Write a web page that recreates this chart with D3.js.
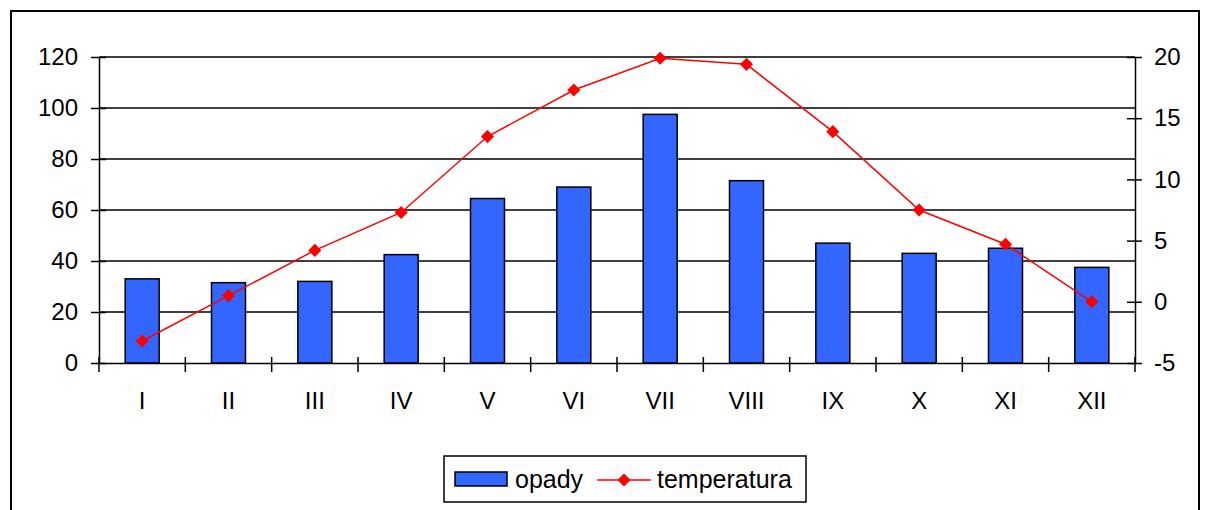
<!DOCTYPE html>
<html>
<head>
  <meta charset="utf-8">
  <script src="https://d3js.org/d3.v7.min.js"></script>
  <style>
  body { margin: 0; background: white; }
  svg text { font-family: "Liberation Sans", Arial, sans-serif; fill: black; }
  </style>
</head>
<body>
<svg id="chart" width="1208" height="510"></svg>
<script>
// data
var months = ["I", "II", "III", "IV", "V", "VI", "VII", "VIII", "IX", "X", "XI", "XII"];
var opady = [33, 31.5, 32, 42.5, 64.5, 69, 97.5, 71.5, 47, 43, 45, 37.5];
var temperatura = [-3.2, 0.5, 4.2, 7.3, 13.5, 17.3, 19.9, 19.4, 13.9, 7.5, 4.7, 0];
var leftTicks = [0, 20, 40, 60, 80, 100, 120];
var rightTicks = [-5, 0, 5, 10, 15, 20];

var svg = d3.select("#chart");

// outer frame
svg.append("rect")
  .attr("x", 11).attr("y", 11)
  .attr("width", 1188).attr("height", 520)
  .attr("fill", "none").attr("stroke", "black").attr("stroke-width", 2);

var plotLeft = 99, plotRight = 1135, plotTop = 57, plotBottom = 363;
var fontSize = "24px";

var xs = d3.scaleBand().domain(months).range([plotLeft, plotRight]);
var yl = d3.scaleLinear().domain([0, 120]).range([plotBottom, plotTop]);
var yr = d3.scaleLinear().domain([-5, 20]).range([plotBottom, plotTop]);

// gridlines
svg.append("g").selectAll("line").data(leftTicks.slice(1)).enter().append("line")
  .attr("x1", plotLeft).attr("x2", plotRight)
  .attr("y1", function(d){ return yl(d); }).attr("y2", function(d){ return yl(d); })
  .attr("stroke", "black").attr("stroke-width", 1.5);

// bars
var bw = 34;
svg.append("g").selectAll("rect").data(opady).enter().append("rect")
  .attr("x", function(d, i){ return xs(months[i]) + xs.bandwidth() / 2 - bw / 2; })
  .attr("y", function(d){ return yl(d); })
  .attr("width", bw)
  .attr("height", function(d){ return plotBottom - yl(d); })
  .attr("fill", "#3366FF")
  .attr("stroke", "black").attr("stroke-width", 1.5);

// axes
function styleAxis(g) {
  g.select(".domain").attr("stroke", "black").attr("stroke-width", 1.5);
  g.selectAll(".tick line").attr("stroke", "black").attr("stroke-width", 1.5);
  g.selectAll(".tick text").style("font-size", fontSize).style("font-family", "Liberation Sans, Arial, sans-serif");
}

var gl = svg.append("g").attr("transform", "translate(" + plotLeft + ",0)")
  .call(d3.axisLeft(yl).tickValues(leftTicks).tickSizeOuter(0).tickSizeInner(8));
styleAxis(gl);
gl.selectAll(".tick line").attr("x1", 7).attr("x2", -8);
gl.selectAll(".tick text").attr("x", -21);

var gr = svg.append("g").attr("transform", "translate(" + plotRight + ",0)")
  .call(d3.axisRight(yr).tickValues(rightTicks).tickSizeOuter(0).tickSizeInner(8)
    .tickFormat(function(d){ return String(d); }));
styleAxis(gr);
gr.selectAll(".tick line").attr("x1", -8).attr("x2", 7);
gr.selectAll(".tick text").attr("x", 19);

var gb = svg.append("g").attr("transform", "translate(0," + plotBottom + ")")
  .call(d3.axisBottom(xs).tickSizeOuter(0).tickSize(0).tickPadding(29));
styleAxis(gb);
gb.selectAll(".tick text").attr("dy", "0.71em");
// tick marks between categories
var bounds = months.map(function(m){ return xs(m); }).concat([plotRight]);
gb.append("g").selectAll("line").data(bounds).enter().append("line")
  .attr("x1", function(d){ return d; }).attr("x2", function(d){ return d; })
  .attr("y1", -6).attr("y2", 9)
  .attr("stroke", "black").attr("stroke-width", 1.5);

// temperature line
var line = d3.line()
  .x(function(d, i){ return xs(months[i]) + xs.bandwidth() / 2; })
  .y(function(d){ return yr(d); });
svg.append("path").datum(temperatura)
  .attr("d", line)
  .attr("fill", "none").attr("stroke", "#FF0000").attr("stroke-width", 1.5);

var diamond = d3.symbol().type(d3.symbolDiamond2).size(110);
svg.append("g").selectAll("path").data(temperatura).enter().append("path")
  .attr("d", diamond)
  .attr("transform", function(d, i){ return "translate(" + (xs(months[i]) + xs.bandwidth() / 2) + "," + yr(d) + ")"; })
  .attr("fill", "#FF0000");

// legend
var lg = svg.append("g");
lg.append("rect").attr("x", 444).attr("y", 456).attr("width", 362).attr("height", 46)
  .attr("fill", "white").attr("stroke", "black").attr("stroke-width", 1.5);
lg.append("rect").attr("x", 455).attr("y", 472).attr("width", 52).attr("height", 14)
  .attr("fill", "#3366FF").attr("stroke", "black").attr("stroke-width", 1.5);
lg.append("text").attr("x", 515).attr("y", 488).style("font-size", "25px").text("opady");
lg.append("line").attr("x1", 597).attr("x2", 651).attr("y1", 480).attr("y2", 480)
  .attr("stroke", "#FF0000").attr("stroke-width", 1.5);
lg.append("path").attr("d", diamond).attr("transform", "translate(624,480)").attr("fill", "#FF0000");
lg.append("text").attr("x", 657).attr("y", 488).style("font-size", "25px").text("temperatura");
</script>
</body>
</html>
